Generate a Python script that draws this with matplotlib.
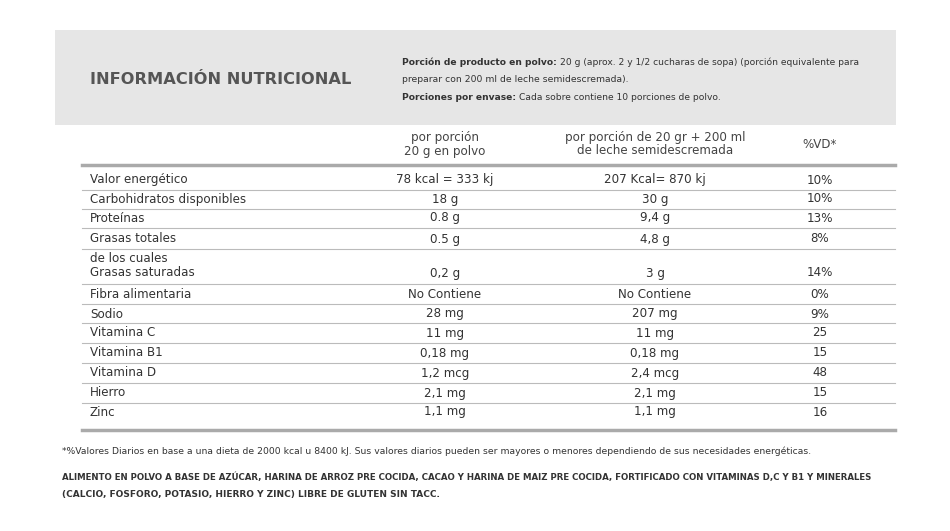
import matplotlib
matplotlib.use("Agg")
import matplotlib.pyplot as plt
from matplotlib.patches import Rectangle

plt.rcParams["font.family"] = "DejaVu Sans"

title = "INFORMACIÓN NUTRICIONAL"
col_headers = ["por porción\n20 g en polvo", "por porción de 20 gr + 200 ml\nde leche semidescremada", "%VD*"]
nutrients = ["Valor energético", "Carbohidratos disponibles", "Proteínas", "Grasas totales",
             "de los cuales\nGrasas saturadas", "Fibra alimentaria", "Sodio", "Vitamina C",
             "Vitamina B1", "Vitamina D", "Hierro", "Zinc"]
per_powder = ["78 kcal = 333 kj", "18 g", "0.8 g", "0.5 g", "0,2 g", "No Contiene", "28 mg",
              "11 mg", "0,18 mg", "1,2 mcg", "2,1 mg", "1,1 mg"]
per_milk = ["207 Kcal= 870 kj", "30 g", "9,4 g", "4,8 g", "3 g", "No Contiene", "207 mg",
            "11 mg", "0,18 mg", "2,4 mcg", "2,1 mg", "1,1 mg"]
vd = ["10%", "10%", "13%", "8%", "14%", "0%", "9%", "25", "15", "48", "15", "16"]

fig = plt.figure(figsize=(9.5, 5.31), dpi=100)
ax = fig.add_axes([0, 0, 1, 1])
ax.set_xlim(0, 950); ax.set_ylim(531, 0); ax.axis("off")
fig.canvas.draw()
R = fig.canvas.get_renderer()

def runs(x, y, parts, width, base=9, color="#333"):
    """Draw [(text, bold)] sequentially, scaled so total width == width."""
    objs = []
    for s, b in parts:
        objs.append(ax.text(0, y, s, fontsize=base, fontweight="bold" if b else "normal",
                            color=color, va="center"))
    tot = sum(o.get_window_extent(R).width for o in objs)
    fs = base * width / tot
    cur = x
    for o in objs:
        o.set_fontsize(fs)
        o.set_x(cur)
        cur += o.get_window_extent(R).width
    return objs

ax.add_patch(Rectangle((55, 30), 841, 95, color="#e6e6e6", lw=0))
runs(90, 80, [(title, True)], 260, base=13, color="#555555")
tx = 402
runs(tx, 62, [("Porción de producto en polvo: ", True),
              ("20 g (aprox. 2 y 1/2 cucharas de sopa) (porción equivalente para", False)], 458)
t = runs(tx, 79, [("preparar con 200 ml de leche semidescremada).", False)], 228)
runs(tx, 97, [("Porciones por envase: ", True), ("Cada sobre contiene 10 porciones de polvo.", False)], 318)

FS = 8.6
cx = [445, 655, 820]
for x, h in zip(cx, col_headers):
    ax.text(x, 144, h, fontsize=FS, color="#444", ha="center", va="center", linespacing=1.1)

ax.plot([82, 895], [165, 165], color="#aaaaaa", lw=2.5)
ax.plot([82, 895], [430, 430], color="#aaaaaa", lw=2.5)

ys = [180, 199, 218, 239, 266, 294, 314, 333, 353, 373, 393, 412]
bounds = [190, 209, 228, 249, 284, 304, 323, 343, 363, 383, 403]
for b in bounds:
    ax.plot([82, 895], [b, b], color="#bbbbbb", lw=0.8)
for i, y in enumerate(ys):
    lab = nutrients[i]
    if "\n" in lab:
        a, b2 = lab.split("\n")
        ax.text(90, 258, a, fontsize=FS, color="#333", va="center")
        ax.text(90, 273, b2, fontsize=FS, color="#333", va="center")
        yv = 273
    else:
        ax.text(90, y, lab, fontsize=FS, color="#333", va="center")
        yv = y
    for x, v in zip(cx, [per_powder[i], per_milk[i], vd[i]]):
        ax.text(x, yv, v, fontsize=FS, color="#333", ha="center", va="center")

runs(62, 451, [("*%Valores Diarios en base a una dieta de 2000 kcal u 8400 kJ. Sus valores diarios pueden ser mayores o menores dependiendo de sus necesidades energéticas.", False)], 746)
runs(62, 477, [("ALIMENTO EN POLVO A BASE DE AZÚCAR, HARINA DE ARROZ PRE COCIDA, CACAO Y HARINA DE MAIZ PRE COCIDA, FORTIFICADO CON VITAMINAS D,C Y B1 Y MINERALES", True)], 814)
runs(62, 494, [("(CALCIO, FOSFORO, POTASIO, HIERRO Y ZINC) LIBRE DE GLUTEN SIN TACC.", True)], 375)

fig.savefig("out.png", dpi=100, facecolor="white")
